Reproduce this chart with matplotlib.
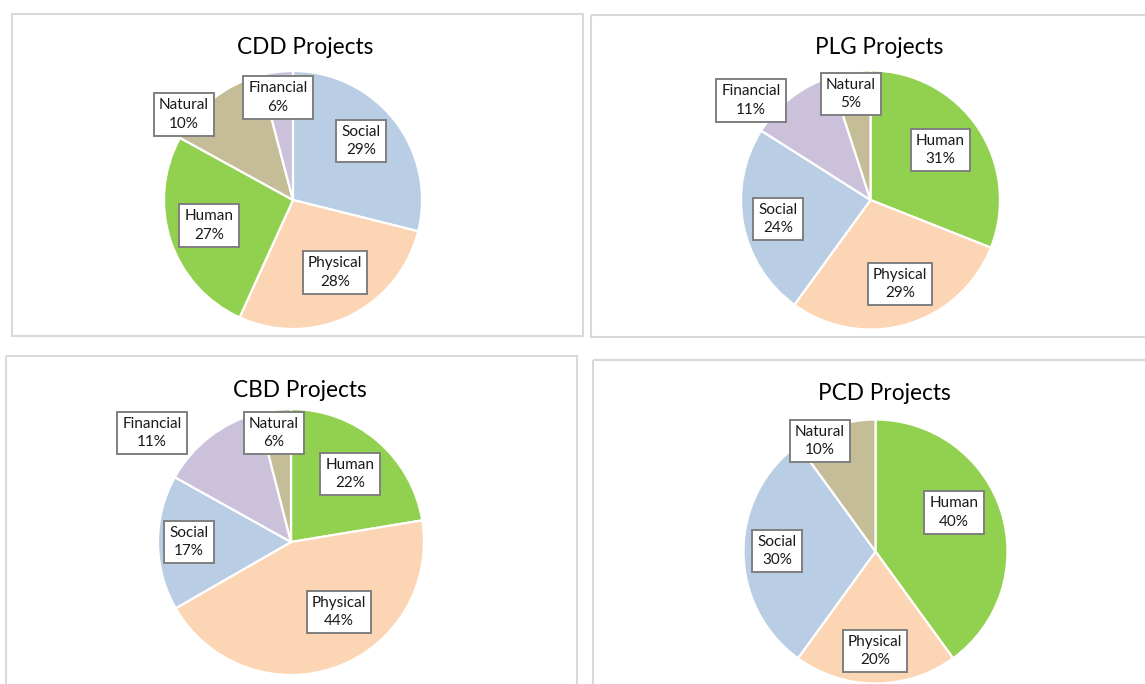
import matplotlib
matplotlib.use("Agg")
import matplotlib.pyplot as plt
from matplotlib.patches import Rectangle

# ---------------- data ----------------
cdd_categories = ["Social", "Physical", "Human", "Natural", "Financial"]
cdd_shares = [28.9, 27.9, 26.2, 12.9, 4.1]
cdd_pct_text = ["29%", "28%", "27%", "10%", "6%"]

plg_categories = ["Human", "Physical", "Social", "Financial", "Natural"]
plg_shares = [31, 29, 24, 11, 5]
plg_pct_text = ["31%", "29%", "24%", "11%", "5%"]

cbd_categories = ["Human", "Physical", "Social", "Financial", "Natural"]
cbd_shares = [22.4, 44.3, 16.4, 12.9, 4.0]
cbd_pct_text = ["22%", "44%", "17%", "11%", "6%"]

pcd_categories = ["Human", "Physical", "Social", "Natural"]
pcd_shares = [40, 20, 30, 10]
pcd_pct_text = ["40%", "20%", "30%", "10%"]

titles = ["CDD Projects", "PLG Projects", "CBD Projects", "PCD Projects"]

# ---------------- style ----------------
colors = {
    "Social": "#B9CDE5",
    "Physical": "#FCD5B5",
    "Human": "#92D050",
    "Natural": "#C4BD97",
    "Financial": "#CCC1DA",
}
FONT = ["Lato", "DejaVu Sans"]
W, H = 1145, 684
DPI = 100

# layout in pixels: pie centre, radius, title anchor, panel frame, label box centres
layouts = [
    dict(center=(293, 200), r=129, title=(305, 54), frame=(12, 14, 583, 336),
         labels={"Social": (361, 141), "Physical": (335, 272.5), "Human": (209, 225.5),
                 "Natural": (184, 114.5), "Financial": (278, 97.5)}),
    dict(center=(870.5, 200), r=129.5, title=(879, 54.5), frame=(591, 15, 1160, 337),
         labels={"Human": (940.5, 150), "Physical": (900, 284), "Social": (778, 219),
                 "Financial": (751, 100.5), "Natural": (851, 94)}),
    dict(center=(291, 542), r=133, title=(299.5, 397), frame=(6, 356, 577, 700),
         labels={"Human": (350, 474), "Physical": (339, 612), "Social": (189, 542),
                 "Financial": (152, 433), "Natural": (274, 433)}),
    dict(center=(875.5, 551.5), r=132, title=(884, 400), frame=(593, 360, 1160, 700),
         labels={"Human": (954, 512.5), "Physical": (875, 651), "Social": (777, 551),
                 "Natural": (820, 441)}),
]

datasets = [
    (cdd_categories, cdd_shares, cdd_pct_text),
    (plg_categories, plg_shares, plg_pct_text),
    (cbd_categories, cbd_shares, cbd_pct_text),
    (pcd_categories, pcd_shares, pcd_pct_text),
]

fig = plt.figure(figsize=(W / DPI, H / DPI), dpi=DPI)
fig.patch.set_facecolor("white")

# background axes in pixel coordinates for frames and titles
bg = fig.add_axes([0, 0, 1, 1])
bg.set_xlim(0, W)
bg.set_ylim(H, 0)
bg.axis("off")

for (cats, shares, pcts), lay, title in zip(datasets, layouts, titles):
    x0, y0, x1, y1 = lay["frame"]
    bg.add_patch(Rectangle((x0, y0), x1 - x0, y1 - y0, fill=False,
                           edgecolor="#D9D9D9", linewidth=1.5))
    bg.text(lay["title"][0], lay["title"][1], title, ha="center", va="baseline",
            fontsize=16.3, family=FONT, color="#000000")

    cx, cy = lay["center"]
    r = lay["r"]
    ax = fig.add_axes([(cx - r) / W, (H - (cy + r)) / H, 2 * r / W, 2 * r / H])
    ax.pie(shares, colors=[colors[c] for c in cats], startangle=90,
           counterclock=False, radius=1,
           wedgeprops=dict(edgecolor="white", linewidth=1.6))
    ax.set_xlim(-1, 1)
    ax.set_ylim(-1, 1)
    ax.set_aspect("equal")
    ax.axis("off")

    for c, p in zip(cats, pcts):
        px, py = lay["labels"][c]
        ax.text((px - cx) / r, (cy - py) / r, f"{c}\n{p}", ha="center", va="center",
                fontsize=11, family=FONT, color="#1a1a1a", linespacing=1.4,
                zorder=5, clip_on=False,
                bbox=dict(boxstyle="square,pad=0.33", facecolor="white",
                          edgecolor="#7F7F7F", linewidth=1.4))

fig.savefig("out.png", dpi=DPI, facecolor="white")
